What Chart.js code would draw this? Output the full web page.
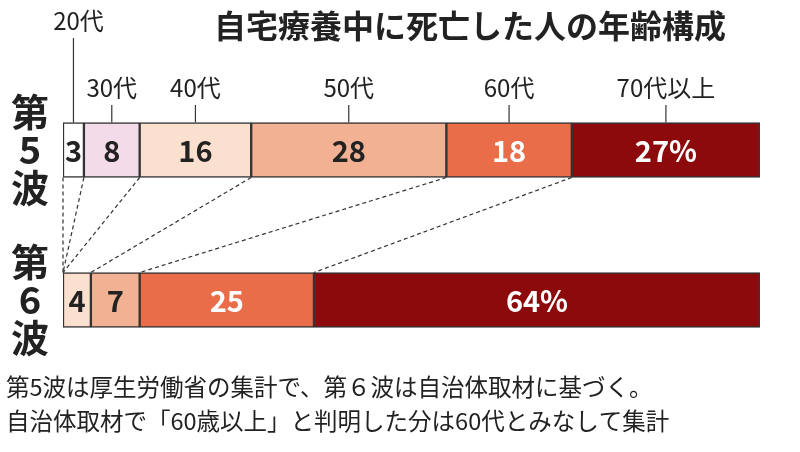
<!DOCTYPE html>
<html><head><meta charset="utf-8">
<script src="https://cdn.jsdelivr.net/npm/chart.js@4"></script>
<style>body{margin:0;background:#fff}canvas{display:block}</style>
</head><body>
<canvas id="c" width="800" height="452"></canvas>
<script>
// Data
const waves = ['第5波', '第6波'];
const ages = ['20代', '30代', '40代', '50代', '60代', '70代以上'];
const wave5 = [3, 8, 16, 28, 18, 27];
const wave6 = [0, 0, 4, 7, 25, 64];
const colors = ['#ffffff', '#f3dbea', '#fbe0d0', '#f3b193', '#ea6d4a', '#8c0a0c'];
const FONT = '"Noto Sans CJK JP", "Noto Sans", sans-serif';

const overlay = {
    id: 'overlay',
    afterDatasetsDraw(chart) {
        const ctx = chart.ctx;
        const x = chart.scales.x;
        const metas = ages.map((_, i) => chart.getDatasetMeta(i));
        const b1 = metas[0].data[0], b2 = metas[0].data[1];
        const h1 = b1.height / 2, h2 = b2.height / 2;
        const top1 = b1.y - h1, bot1 = b1.y + h1, top2 = b2.y - h2;

        // segment labels
        ctx.save();
        ctx.font = 'bold 29px ' + FONT;
        ctx.textAlign = 'center';
        ctx.textBaseline = 'middle';
        metas.forEach((m, i) => {
            m.data.forEach((bar, j) => {
                const v = j === 0 ? wave5[i] : wave6[i];
                if (!v) return;
                ctx.fillStyle = i >= 4 ? '#fff' : '#222';
                const txt = i === ages.length - 1 ? v + '%' : String(v);
                ctx.fillText(txt, (bar.x + bar.base) / 2, bar.y + 1);
            });
        });

        // dashed connectors
        ctx.strokeStyle = '#333';
        ctx.lineWidth = 1.2;
        ctx.setLineDash([4, 3]);
        let c5 = 0, c6 = 0;
        for (let i = 0; i < ages.length; i++) {
            ctx.beginPath();
            ctx.moveTo(x.getPixelForValue(c5), bot1);
            ctx.lineTo(x.getPixelForValue(c6), top2);
            ctx.stroke();
            c5 += wave5[i]; c6 += wave6[i];
        }
        ctx.setLineDash([]);

        // age labels with leader lines
        ctx.font = '24px ' + FONT;
        ctx.fillStyle = '#222';
        ctx.textBaseline = 'alphabetic';
        c5 = 0;
        ages.forEach((a, i) => {
            const cx = x.getPixelForValue(c5 + wave5[i] / 2);
            c5 += wave5[i];
            const ly = i === 0 ? 30 : 97;
            const tx = i === 0 ? cx + 5 : cx;
            ctx.fillText(a, tx, ly);
            ctx.beginPath();
            ctx.moveTo(cx, ly + 8);
            ctx.lineTo(cx, top1);
            ctx.stroke();
        });

        // title
        ctx.font = 'bold 32px ' + FONT;
        ctx.fillText('自宅療養中に死亡した人の年齢構成', 470, 38);

        // wave labels (vertical)
        ctx.font = 'bold 38px ' + FONT;
        const wy = [b1.y, b2.y];
        waves.forEach((w, j) => {
            w.split('').forEach((ch, k) => ctx.fillText(ch, 30, wy[j] - 38 + k * 38 + 14));
        });

        // footnote
        ctx.font = '23.5px ' + FONT;
        ctx.textAlign = 'left';
        ctx.fillText('第5波は厚生労働省の集計で、第６波は自治体取材に基づく。', 6, 396);
        ctx.fillText('自治体取材で「60歳以上」と判明した分は60代とみなして集計', 6, 430);
        ctx.restore();
    }
};

new Chart(document.getElementById('c'), {
    type: 'bar',
    data: {
        labels: waves,
        datasets: ages.map((a, i) => ({
            label: a,
            data: [wave5[i], wave6[i]],
            backgroundColor: colors[i],
            borderColor: '#333',
            borderWidth: 1.5,
            borderSkipped: false,
            barThickness: 55
        }))
    },
    options: {
        indexAxis: 'y',
        responsive: false,
        animation: false,
        layout: { padding: { left: 63, right: 40, top: 75, bottom: 77 } },
        plugins: { legend: { display: false }, tooltip: { enabled: false } },
        scales: {
            x: { stacked: true, min: 0, max: 100, display: false },
            y: { stacked: true, display: false }
        }
    },
    plugins: [overlay]
});
</script>
</body></html>
